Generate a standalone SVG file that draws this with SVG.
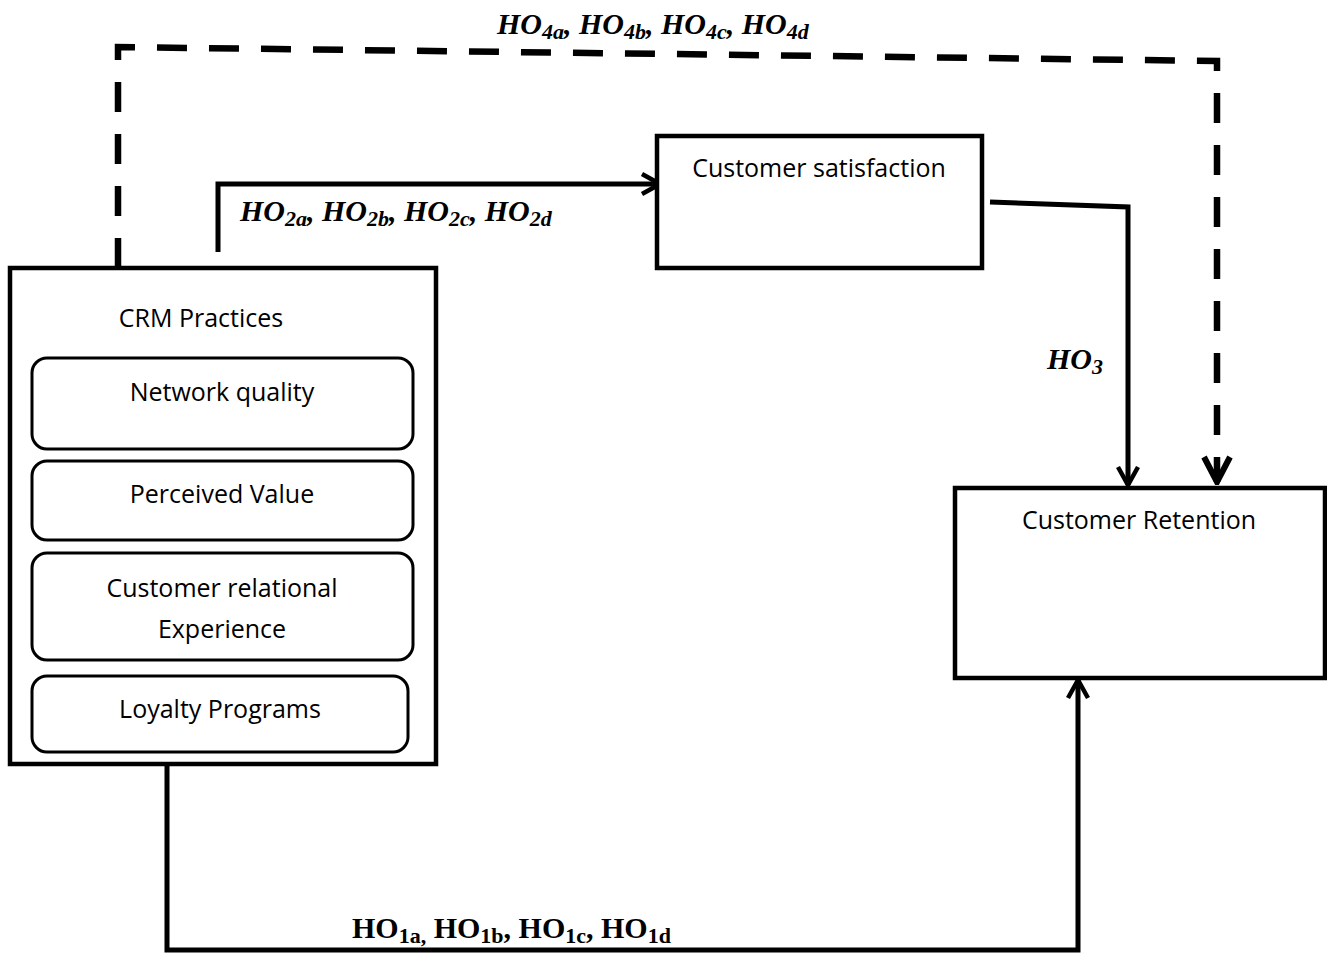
<svg xmlns="http://www.w3.org/2000/svg" width="1327" height="958" viewBox="0 0 1327 958">
<defs>
<style>
.box{fill:#fff;stroke:#000;stroke-width:4.5}
.rbox{fill:#fff;stroke:#000;stroke-width:3}
.t{font-family:"Open Sans","Liberation Sans",sans-serif;font-size:25px;fill:#000;text-anchor:middle}
.lbl{font-family:"Liberation Serif","Times New Roman",serif;font-weight:bold;font-size:30px;fill:#000}
.sub{font-size:22px}
.c{fill:none;stroke:#000;stroke-width:5}
.d{fill:none;stroke:#000;stroke-width:6.5;stroke-dasharray:30 22}
</style>
<marker id="ah" viewBox="0 0 24 24" refX="21" refY="12" markerWidth="24" markerHeight="24" markerUnits="userSpaceOnUse" orient="auto">
<path d="M3,2 L21,12 L3,22" fill="none" stroke="#000" stroke-width="4.5"/>
</marker>
<marker id="ahb" viewBox="0 0 32 32" refX="29" refY="16" markerWidth="32" markerHeight="32" markerUnits="userSpaceOnUse" orient="auto">
<path d="M4,3 L29,16 L4,29" fill="none" stroke="#000" stroke-width="6"/>
</marker>
</defs>

<g id="connectors">
<path class="d" d="M118,268 L118,47 L1217,61 L1217,482" marker-end="url(#ahb)"/>
<path class="c" d="M218,252 L218,184 L660,184" marker-end="url(#ah)"/>
<path class="c" d="M990,202 L1128,207 L1128,485" marker-end="url(#ah)"/>
<path class="c" d="M167,764 L167,950 L1078,950 L1078,680" marker-end="url(#ah)"/>
</g>

<g id="crm">
<rect class="box" x="10" y="268" width="426" height="496"/>
<text class="t" x="201" y="327">CRM Practices</text>
</g>
<g id="network">
<rect class="rbox" x="32" y="358" width="381" height="91" rx="15"/>
<text class="t" x="222" y="401">Network quality</text>
</g>
<g id="perceived">
<rect class="rbox" x="32" y="461" width="381" height="79" rx="15"/>
<text class="t" x="222" y="503">Perceived Value</text>
</g>
<g id="relational">
<rect class="rbox" x="32" y="553" width="381" height="107" rx="15"/>
<text class="t" x="222" y="597">Customer relational</text>
<text class="t" x="222" y="638">Experience</text>
</g>
<g id="loyalty">
<rect class="rbox" x="32" y="676" width="376" height="76" rx="15"/>
<text class="t" x="220" y="718">Loyalty Programs</text>
</g>
<g id="satisfaction">
<rect class="box" x="657" y="136" width="325" height="132"/>
<text class="t" x="819" y="177">Customer satisfaction</text>
</g>
<g id="retention">
<rect class="box" x="955" y="488" width="370" height="190"/>
<text class="t" x="1139" y="529">Customer Retention</text>
</g>

<g id="labels">
<text class="lbl" x="497" y="34" font-style="italic">HO<tspan class="sub" dy="5">4a</tspan><tspan dy="-5">, HO</tspan><tspan class="sub" dy="5">4b</tspan><tspan dy="-5">, HO</tspan><tspan class="sub" dy="5">4c</tspan><tspan dy="-5">, HO</tspan><tspan class="sub" dy="5">4d</tspan></text>
<text class="lbl" x="240" y="221" font-style="italic">HO<tspan class="sub" dy="5">2a</tspan><tspan dy="-5">, HO</tspan><tspan class="sub" dy="5">2b</tspan><tspan dy="-5">, HO</tspan><tspan class="sub" dy="5">2c</tspan><tspan dy="-5">, HO</tspan><tspan class="sub" dy="5">2d</tspan></text>
<text class="lbl" x="1047" y="369" font-style="italic">HO<tspan class="sub" dy="5">3</tspan></text>
<text class="lbl" x="352" y="938">HO<tspan class="sub" dy="5">1a,</tspan><tspan dy="-5"> HO</tspan><tspan class="sub" dy="5">1b</tspan><tspan dy="-5">, HO</tspan><tspan class="sub" dy="5">1c</tspan><tspan dy="-5">, HO</tspan><tspan class="sub" dy="5">1d</tspan></text>
</g>
</svg>
